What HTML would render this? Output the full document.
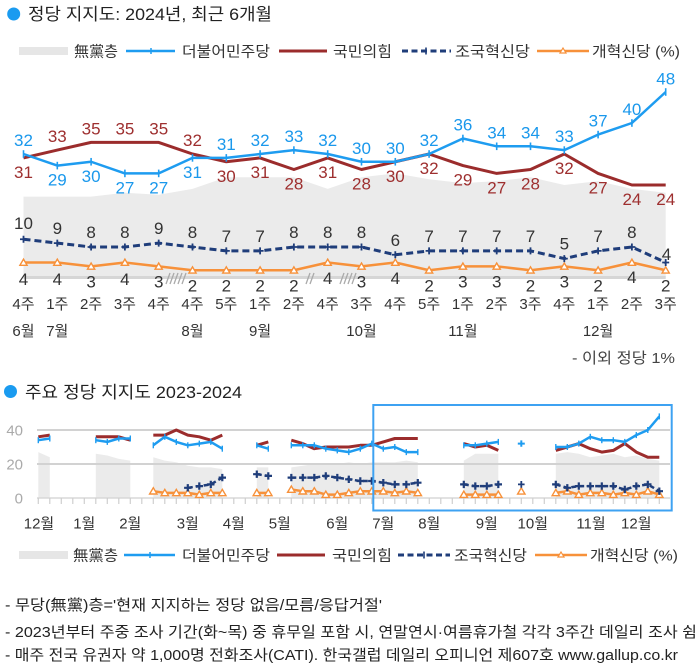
<!DOCTYPE html>
<html><head><meta charset="utf-8">
<style>
html,body{margin:0;padding:0;background:#fff;width:700px;height:672px;overflow:hidden}
svg{display:block}
text{font-family:"Liberation Sans","Noto Sans CJK KR",sans-serif}
</style></head>
<body>
<svg width="700" height="672" viewBox="0 0 700 672" xmlns="http://www.w3.org/2000/svg">
<defs>
<marker id="mb" markerUnits="userSpaceOnUse" markerWidth="8" markerHeight="10" refX="4" refY="5"><path d="M4,1.2V8.8" stroke="#1e9cf0" stroke-width="1.6"/></marker>
<marker id="mn" markerUnits="userSpaceOnUse" markerWidth="10" markerHeight="10" refX="5" refY="5"><path d="M5,1.5V8.5M1.5,5H8.5" stroke="#1f3d7a" stroke-width="1.8"/></marker>
<marker id="mo" markerUnits="userSpaceOnUse" markerWidth="10" markerHeight="10" refX="5" refY="5"><path d="M5,1.6L8.6,7.8H1.4Z" fill="#fff" stroke="#f7913a" stroke-width="1.4"/></marker>
<marker id="mb2" markerUnits="userSpaceOnUse" markerWidth="8" markerHeight="8" refX="4" refY="4"><path d="M4,1V7" stroke="#1e9cf0" stroke-width="1.4"/></marker>
<marker id="mn2" markerUnits="userSpaceOnUse" markerWidth="10" markerHeight="10" refX="5" refY="5"><path d="M5,1.3V8.7M1.3,5H8.7" stroke="#1f3d7a" stroke-width="2.2"/></marker>
<marker id="mo2" markerUnits="userSpaceOnUse" markerWidth="10" markerHeight="10" refX="5" refY="5"><path d="M5,1.5L8.7,7.8H1.3Z" fill="#fff" stroke="#f7913a" stroke-width="1.4"/></marker>
</defs>

<!-- ===== Title 1 ===== -->
<circle cx="13.7" cy="14" r="6.5" fill="#1a9bf0"/>
<text x="28" y="20" font-size="17" fill="#222" textLength="244" lengthAdjust="spacingAndGlyphs">정당 지지도: 2024년, 최근 6개월</text>

<!-- ===== Legend top ===== -->
<rect x="19" y="47" width="49" height="8" fill="#e6e6e6"/>
<text x="74" y="56.5" font-size="15" fill="#333" textLength="44" lengthAdjust="spacingAndGlyphs">無黨층</text>
<line x1="126" y1="51" x2="175" y2="51" stroke="#1e9cf0" stroke-width="2.5"/>
<line x1="151" y1="48" x2="151" y2="54" stroke="#1e9cf0" stroke-width="1.5"/>
<text x="182" y="56.5" font-size="15" fill="#333" textLength="88" lengthAdjust="spacingAndGlyphs">더불어민주당</text>
<line x1="279" y1="51" x2="327" y2="51" stroke="#9b2c2c" stroke-width="3"/>
<text x="333" y="56.5" font-size="15" fill="#333" textLength="59" lengthAdjust="spacingAndGlyphs">국민의힘</text>
<line x1="402" y1="51" x2="451" y2="51" stroke="#1f3d7a" stroke-width="3" stroke-dasharray="6,3.5"/>
<path d="M426,47.5V54.5" stroke="#1f3d7a" stroke-width="1.6"/>
<text x="455" y="56.5" font-size="15" fill="#333" textLength="75" lengthAdjust="spacingAndGlyphs">조국혁신당</text>
<line x1="537" y1="51" x2="589" y2="51" stroke="#f7913a" stroke-width="2.5"/>
<path d="M563,48L566,53H560Z" fill="#fff" stroke="#f7913a" stroke-width="1.2"/>
<text x="592" y="56.5" font-size="15" fill="#333" textLength="88" lengthAdjust="spacingAndGlyphs">개혁신당 (%)</text>

<!-- ===== Top chart ===== -->
<polygon fill="#ebebeb" points="23.5,278 23.5,196.6 57.3,196.6 91.1,196.6 124.9,192.75 158.7,194.7 192.5,188.9 226.3,177.25 260.1,177.25 293.9,177.25 327.7,188.9 361.5,177.25 395.3,173.4 429.1,179.2 462.9,183.1 496.7,181.1 530.5,177.25 564.3,185 598.1,181.1 631.9,188.9 665.7,192.75 665.7,278"/>
<line x1="23.5" y1="277.5" x2="665.7" y2="277.5" stroke="#d6d6d6" stroke-width="3"/>
<g stroke="#aaa" stroke-width="1.3">
<path d="M166,284L170,273M170,284L174,273M174,284L178,273M178,284L182,273M182,284L186,273"/>
<path d="M306,284L310,273M310,284L314,273"/>
<path d="M340,284L344,273M344,284L348,273M348,284L352,273M352,284L356,273"/>
</g>

<polyline fill="none" stroke="#f7913a" stroke-width="2.5" stroke-linejoin="round" marker-start="url(#mo)" marker-mid="url(#mo)" marker-end="url(#mo)" points="23.5,262.5 57.3,262.5 91.1,266.4 124.9,262.5 158.7,266.4 192.5,270.25 226.3,270.25 260.1,270.25 293.9,270.25 327.7,262.5 361.5,266.4 395.3,262.5 429.1,270.25 462.9,266.4 496.7,266.4 530.5,270.25 564.3,266.4 598.1,270.25 631.9,262.5 665.7,270.25"/>
<polyline fill="none" stroke="#1f3d7a" stroke-width="3" stroke-dasharray="7,4" marker-start="url(#mn)" marker-mid="url(#mn)" marker-end="url(#mn)" points="23.5,239.25 57.3,243.1 91.1,247 124.9,247 158.7,243.1 192.5,247 226.3,250.9 260.1,250.9 293.9,247 327.7,247 361.5,247 395.3,254.75 429.1,250.9 462.9,250.9 496.7,250.9 530.5,250.9 564.3,258.6 598.1,250.9 631.9,247 665.7,262.5"/>
<polyline fill="none" stroke="#9b2c2c" stroke-width="3" stroke-linejoin="round" points="23.5,157.9 57.3,150.1 91.1,142.4 124.9,142.4 158.7,142.4 192.5,154 226.3,161.75 260.1,157.9 293.9,169.5 327.7,157.9 361.5,169.5 395.3,161.75 429.1,154 462.9,165.6 496.7,173.4 530.5,169.5 564.3,154 598.1,173.4 631.9,185 665.7,185"/>
<polyline fill="none" stroke="#1e9cf0" stroke-width="2.5" stroke-linejoin="round" marker-start="url(#mb)" marker-mid="url(#mb)" marker-end="url(#mb)" points="23.5,154 57.3,165.6 91.1,161.75 124.9,173.4 158.7,173.4 192.5,157.9 226.3,157.9 260.1,154 293.9,150.1 327.7,154 361.5,161.75 395.3,161.75 429.1,154 462.9,138.5 496.7,146.3 530.5,146.3 564.3,150.1 598.1,134.6 631.9,123 665.7,92"/>

<!-- blue labels -->
<g font-size="17" fill="#1a98ec" text-anchor="middle">
<text x="23.5" y="146">32</text>
<text x="57.3" y="185.6">29</text>
<text x="91.1" y="181.75">30</text>
<text x="124.9" y="193.4">27</text>
<text x="158.7" y="193.4">27</text>
<text x="192.5" y="177.9">31</text>
<text x="226.3" y="149.9">31</text>
<text x="260.1" y="146">32</text>
<text x="293.9" y="142.1">33</text>
<text x="327.7" y="146">32</text>
<text x="361.5" y="153.75">30</text>
<text x="395.3" y="153.75">30</text>
<text x="429.1" y="146">32</text>
<text x="462.9" y="130.5">36</text>
<text x="496.7" y="138.3">34</text>
<text x="530.5" y="138.3">34</text>
<text x="564.3" y="142.1">33</text>
<text x="598.1" y="126.6">37</text>
<text x="631.9" y="115">40</text>
<text x="665.7" y="84.5">48</text>
</g>
<!-- red labels -->
<g font-size="17" fill="#9e2f2f" text-anchor="middle">
<text x="23.5" y="177.9">31</text>
<text x="57.3" y="142.1">33</text>
<text x="91.1" y="134.4">35</text>
<text x="124.9" y="134.4">35</text>
<text x="158.7" y="134.4">35</text>
<text x="192.5" y="146">32</text>
<text x="226.3" y="181.75">30</text>
<text x="260.1" y="177.9">31</text>
<text x="293.9" y="189.5">28</text>
<text x="327.7" y="177.9">31</text>
<text x="361.5" y="189.5">28</text>
<text x="395.3" y="181.75">30</text>
<text x="429.1" y="174">32</text>
<text x="462.9" y="185.6">29</text>
<text x="496.7" y="193.4">27</text>
<text x="530.5" y="189.5">28</text>
<text x="564.3" y="174">32</text>
<text x="598.1" y="193.4">27</text>
<text x="631.9" y="205">24</text>
<text x="665.7" y="205">24</text>
</g>
<!-- navy labels -->
<g font-size="17" fill="#333" text-anchor="middle">
<text x="23.5" y="229">10</text>
<text x="57.3" y="234.1">9</text>
<text x="91.1" y="238">8</text>
<text x="124.9" y="238">8</text>
<text x="158.7" y="234.1">9</text>
<text x="192.5" y="238">8</text>
<text x="226.3" y="241.9">7</text>
<text x="260.1" y="241.9">7</text>
<text x="293.9" y="238">8</text>
<text x="327.7" y="238">8</text>
<text x="361.5" y="238">8</text>
<text x="395.3" y="245.75">6</text>
<text x="429.1" y="241.9">7</text>
<text x="462.9" y="241.9">7</text>
<text x="496.7" y="241.9">7</text>
<text x="530.5" y="241.9">7</text>
<text x="564.3" y="249.6">5</text>
<text x="598.1" y="241.9">7</text>
<text x="631.9" y="238">8</text>
<text x="666.5" y="260">4</text>
</g>
<!-- orange labels -->
<g font-size="17" fill="#333" text-anchor="middle">
<text x="23.5" y="285">4</text>
<text x="57.3" y="285">4</text>
<text x="91.1" y="287.4">3</text>
<text x="124.9" y="285">4</text>
<text x="158.7" y="287.4">3</text>
<text x="192.5" y="291.25">2</text>
<text x="226.3" y="291.25">2</text>
<text x="260.1" y="291.25">2</text>
<text x="293.9" y="291.25">2</text>
<text x="327.7" y="284">4</text>
<text x="361.5" y="287.4">3</text>
<text x="395.3" y="284">4</text>
<text x="429.1" y="291.25">2</text>
<text x="462.9" y="287.4">3</text>
<text x="496.7" y="287.4">3</text>
<text x="530.5" y="291.25">2</text>
<text x="564.3" y="287.4">3</text>
<text x="598.1" y="291.25">2</text>
<text x="631.9" y="283">4</text>
<text x="665.7" y="291.25">2</text>
</g>

<!-- week labels -->
<g font-size="15" fill="#333" text-anchor="middle">
<text x="23.5" y="309">4주</text>
<text x="57.3" y="309">1주</text>
<text x="91.1" y="309">2주</text>
<text x="124.9" y="309">3주</text>
<text x="158.7" y="309">4주</text>
<text x="192.5" y="309">4주</text>
<text x="226.3" y="309">5주</text>
<text x="260.1" y="309">1주</text>
<text x="293.9" y="309">2주</text>
<text x="327.7" y="309">4주</text>
<text x="361.5" y="309">3주</text>
<text x="395.3" y="309">4주</text>
<text x="429.1" y="309">5주</text>
<text x="462.9" y="309">1주</text>
<text x="496.7" y="309">2주</text>
<text x="530.5" y="309">3주</text>
<text x="564.3" y="309">4주</text>
<text x="598.1" y="309">1주</text>
<text x="631.9" y="309">2주</text>
<text x="665.7" y="309">3주</text>
</g>
<g font-size="15" fill="#333" text-anchor="middle">
<text x="23.5" y="336">6월</text>
<text x="57.3" y="336">7월</text>
<text x="192.5" y="336">8월</text>
<text x="260.1" y="336">9월</text>
<text x="361.5" y="336">10월</text>
<text x="462.9" y="336">11월</text>
<text x="598.1" y="336">12월</text>
</g>
<text x="572" y="363" font-size="15" fill="#444" textLength="103" lengthAdjust="spacingAndGlyphs">- 이외 정당 1%</text>

<!-- ===== Title 2 ===== -->
<circle cx="10.5" cy="391.5" r="6.5" fill="#1a9bf0"/>
<text x="25" y="398" font-size="17" fill="#222" textLength="217" lengthAdjust="spacingAndGlyphs">주요 정당 지지도 2023-2024</text>

<!-- ===== Bottom chart ===== -->
<g fill="#ebebeb">
<polygon points="38.3,498 38.3,452.1 49.8,457.2 49.8,498"/>
<polygon points="95.8,498 95.8,453.8 107.3,455.5 118.8,458.9 130.3,460.6 130.3,498"/>
<polygon points="153.3,498 153.3,457.2 164.8,460.6 176.3,462.3 187.8,465.7 199.3,467.4 210.8,467.4 222.3,469.1 222.3,498"/>
<polygon points="256.8,498 256.8,467.4 268.3,467.4 268.3,498"/>
<polygon points="291.3,498 291.3,467.4 302.8,465.7 314.3,464 325.8,464 337.3,464 348.8,462.3 360.3,464 371.8,462.3 383.3,462.3 394.8,462.3 406.3,460.6 417.8,462.3 417.8,498"/>
<polygon points="463.8,498 463.8,460.6 475.3,453.8 486.8,453.8 498.3,453.8 498.3,498"/>
<polygon points="555.8,498 555.8,453.8 567.3,452.1 578.8,453.8 590.3,457.2 601.8,455.5 613.3,453.8 624.8,457.2 636.3,455.5 647.8,458.9 659.3,460.6 659.3,498"/>
</g>
<line x1="37" y1="430" x2="670" y2="430" stroke="#d2d2d2" stroke-width="2"/>
<line x1="37" y1="464" x2="670" y2="464" stroke="#d2d2d2" stroke-width="2"/>
<line x1="37" y1="498" x2="670" y2="498" stroke="#d8d8d8" stroke-width="1.5"/>
<path stroke="#cfcfcf" stroke-width="1.2" d="M38.3,498v6M49.8,498v6M61.3,498v6M72.8,498v6M84.3,498v6M95.8,498v6M107.3,498v6M118.8,498v6M130.3,498v6M141.8,498v6M153.3,498v6M164.8,498v6M176.3,498v6M187.8,498v6M199.3,498v6M210.8,498v6M222.3,498v6M233.8,498v6M245.3,498v6M256.8,498v6M268.3,498v6M279.8,498v6M291.3,498v6M302.8,498v6M314.3,498v6M325.8,498v6M337.3,498v6M348.8,498v6M360.3,498v6M371.8,498v6M383.3,498v6M394.8,498v6M406.3,498v6M417.8,498v6M429.3,498v6M440.8,498v6M452.3,498v6M463.8,498v6M475.3,498v6M486.8,498v6M498.3,498v6M509.8,498v6M521.3,498v6M532.8,498v6M544.3,498v6M555.8,498v6M567.3,498v6M578.8,498v6M590.3,498v6M601.8,498v6M613.3,498v6M624.8,498v6M636.3,498v6M647.8,498v6M659.3,498v6"/>
<g font-size="15" fill="#aaa" text-anchor="end">
<text x="23" y="435.5">40</text>
<text x="23" y="469.5">20</text>
<text x="23" y="503.5">0</text>
</g>

<!-- orange series -->
<g fill="none" stroke="#f7913a" stroke-width="2.5" stroke-linejoin="round">
<polyline marker-start="url(#mo2)" marker-mid="url(#mo2)" marker-end="url(#mo2)" points="153.3,491.2 164.8,492.9 176.3,492.9 187.8,492.9 199.3,494.6 210.8,492.9 222.3,492.9"/>
<polyline marker-start="url(#mo2)" marker-mid="url(#mo2)" marker-end="url(#mo2)" points="256.8,492.9 268.3,492.9"/>
<polyline marker-start="url(#mo2)" marker-mid="url(#mo2)" marker-end="url(#mo2)" points="291.3,489.5 302.8,491.2 314.3,491.2 325.8,494.6 337.3,494.6 348.8,492.9 360.3,491.2 371.8,491.2 383.3,491.2 394.8,492.9 406.3,491.2 417.8,492.9"/>
<polyline marker-start="url(#mo2)" marker-mid="url(#mo2)" marker-end="url(#mo2)" points="463.8,494.6 475.3,494.6 486.8,494.6 498.3,494.6"/>
<polyline marker-start="url(#mo2)" marker-mid="url(#mo2)" marker-end="url(#mo2)" points="555.8,492.9 567.3,491.2 578.8,494.6 590.3,492.9 601.8,492.9 613.3,494.6 624.8,492.9 636.3,494.6 647.8,491.2 659.3,494.6"/>
</g>
<path d="M521.3,487.8L525,494.1H517.6Z" fill="#fff" stroke="#f7913a" stroke-width="1.4"/>

<!-- navy series -->
<g fill="none" stroke="#1f3d7a" stroke-width="2.5" stroke-dasharray="5,3">
<polyline marker-start="url(#mn2)" marker-mid="url(#mn2)" marker-end="url(#mn2)" points="187.8,487.8 199.3,486.1 210.8,484.4 222.3,477.6"/>
<polyline marker-start="url(#mn2)" marker-mid="url(#mn2)" marker-end="url(#mn2)" points="256.8,474.2 268.3,475.9"/>
<polyline marker-start="url(#mn2)" marker-mid="url(#mn2)" marker-end="url(#mn2)" points="291.3,477.6 302.8,477.6 314.3,477.6 325.8,475.9 337.3,477.6 348.8,479.3 360.3,481 371.8,481 383.3,482.7 394.8,484.4 406.3,484.4 417.8,482.7"/>
<polyline marker-start="url(#mn2)" marker-mid="url(#mn2)" marker-end="url(#mn2)" points="463.8,484.4 475.3,486.1 486.8,486.1 498.3,484.4"/>
<polyline marker-start="url(#mn2)" marker-mid="url(#mn2)" marker-end="url(#mn2)" points="555.8,484.4 567.3,487.8 578.8,486.1 590.3,486.1 601.8,486.1 613.3,486.1 624.8,489.5 636.3,486.1 647.8,484.4 659.3,491.2"/>
</g>
<path d="M521.3,481V487.8M518,484.4H524.6" stroke="#1f3d7a" stroke-width="1.8"/>

<!-- red series -->
<g fill="none" stroke="#9b2c2c" stroke-width="3" stroke-linejoin="round">
<polyline points="38.3,436.8 49.8,435.1"/>
<polyline points="95.8,436.8 107.3,436.8 118.8,436.8 130.3,440.2"/>
<polyline points="153.3,435.1 164.8,435.1 176.3,430 187.8,435.1 199.3,436.8 210.8,440.2 222.3,435.1"/>
<polyline points="256.8,445.3 268.3,441.9"/>
<polyline points="291.3,440.2 302.8,443.6 314.3,448.7 325.8,447 337.3,447 348.8,447 360.3,445.3 371.8,445.3 383.3,441.9 394.8,438.5 406.3,438.5 417.8,438.5"/>
<polyline points="463.8,443.6 475.3,447 486.8,445.3 498.3,450.4"/>
<polyline points="555.8,450.4 567.3,447 578.8,443.6 590.3,448.7 601.8,452.1 613.3,450.4 624.8,443.6 636.3,452.1 647.8,457.2 659.3,457.2"/>
</g>

<!-- blue series -->
<g fill="none" stroke="#1e9cf0" stroke-width="2.5" stroke-linejoin="round">
<polyline marker-start="url(#mb2)" marker-mid="url(#mb2)" marker-end="url(#mb2)" points="38.3,440.2 49.8,438.5"/>
<polyline marker-start="url(#mb2)" marker-mid="url(#mb2)" marker-end="url(#mb2)" points="95.8,440.2 107.3,441.9 118.8,438.5 130.3,438.5"/>
<polyline marker-start="url(#mb2)" marker-mid="url(#mb2)" marker-end="url(#mb2)" points="153.3,445.3 164.8,436.8 176.3,441.9 187.8,445.3 199.3,443.6 210.8,441.9 222.3,448.7"/>
<polyline marker-start="url(#mb2)" marker-mid="url(#mb2)" marker-end="url(#mb2)" points="256.8,445.3 268.3,448.7"/>
<polyline marker-start="url(#mb2)" marker-mid="url(#mb2)" marker-end="url(#mb2)" points="291.3,445.3 302.8,445.3 314.3,445.3 325.8,448.7 337.3,450.4 348.8,452.1 360.3,448.7 371.8,443.6 383.3,448.7 394.8,447 406.3,452.1 417.8,452.1"/>
<polyline marker-start="url(#mb2)" marker-mid="url(#mb2)" marker-end="url(#mb2)" points="463.8,445.3 475.3,445.3 486.8,443.6 498.3,441.9"/>
<polyline marker-start="url(#mb2)" marker-mid="url(#mb2)" marker-end="url(#mb2)" points="555.8,447 567.3,447 578.8,443.6 590.3,436.8 601.8,440.2 613.3,440.2 624.8,441.9 636.3,435.1 647.8,430 659.3,416.4"/>
</g>
<path d="M517.8,443.6H524.8M521.3,440.4V446.8" stroke="#1e9cf0" stroke-width="2"/>

<!-- highlight box -->
<rect x="373.3" y="405" width="298.4" height="105.5" fill="none" stroke="#3ea2f2" stroke-width="2"/>

<!-- bottom month labels -->
<g font-size="15" fill="#333" text-anchor="middle">
<text x="39" y="528.5">12월</text>
<text x="84.3" y="528.5">1월</text>
<text x="130.3" y="528.5">2월</text>
<text x="187.8" y="528.5">3월</text>
<text x="233.8" y="528.5">4월</text>
<text x="279.8" y="528.5">5월</text>
<text x="337.3" y="528.5">6월</text>
<text x="383.3" y="528.5">7월</text>
<text x="429.3" y="528.5">8월</text>
<text x="486.8" y="528.5">9월</text>
<text x="532.8" y="528.5">10월</text>
<text x="591" y="528.5">11월</text>
<text x="636.3" y="528.5">12월</text>
</g>

<!-- ===== Legend bottom ===== -->
<rect x="19" y="551" width="49" height="8" fill="#e6e6e6"/>
<text x="73" y="560.5" font-size="15" fill="#333" textLength="45" lengthAdjust="spacingAndGlyphs">無黨층</text>
<line x1="124" y1="555" x2="175" y2="555" stroke="#1e9cf0" stroke-width="2.5"/>
<line x1="150" y1="552" x2="150" y2="558" stroke="#1e9cf0" stroke-width="1.5"/>
<text x="182" y="560.5" font-size="15" fill="#333" textLength="88" lengthAdjust="spacingAndGlyphs">더불어민주당</text>
<line x1="277" y1="555" x2="325" y2="555" stroke="#9b2c2c" stroke-width="3"/>
<text x="332" y="560.5" font-size="15" fill="#333" textLength="60" lengthAdjust="spacingAndGlyphs">국민의힘</text>
<line x1="398" y1="555" x2="450" y2="555" stroke="#1f3d7a" stroke-width="3" stroke-dasharray="6,3.5"/>
<path d="M424,551.5V558.5" stroke="#1f3d7a" stroke-width="1.6"/>
<text x="454" y="560.5" font-size="15" fill="#333" textLength="73" lengthAdjust="spacingAndGlyphs">조국혁신당</text>
<line x1="535" y1="555" x2="587" y2="555" stroke="#f7913a" stroke-width="2.5"/>
<path d="M561,552L564,557H558Z" fill="#fff" stroke="#f7913a" stroke-width="1.2"/>
<text x="590" y="560.5" font-size="15" fill="#333" textLength="88" lengthAdjust="spacingAndGlyphs">개혁신당 (%)</text>

<!-- ===== Footnotes ===== -->
<g font-size="15" fill="#222">
<text x="5" y="610" textLength="377" lengthAdjust="spacingAndGlyphs">- 무당(無黨)층='현재 지지하는 정당 없음/모름/응답거절'</text>
<text x="5" y="637" textLength="692" lengthAdjust="spacingAndGlyphs">- 2023년부터 주중 조사 기간(화~목) 중 휴무일 포함 시, 연말연시·여름휴가철 각각 3주간 데일리 조사 쉼</text>
<text x="5" y="660" textLength="673" lengthAdjust="spacingAndGlyphs">- 매주 전국 유권자 약 1,000명 전화조사(CATI). 한국갤럽 데일리 오피니언 제607호 www.gallup.co.kr</text>
</g>
</svg>
</body></html>
